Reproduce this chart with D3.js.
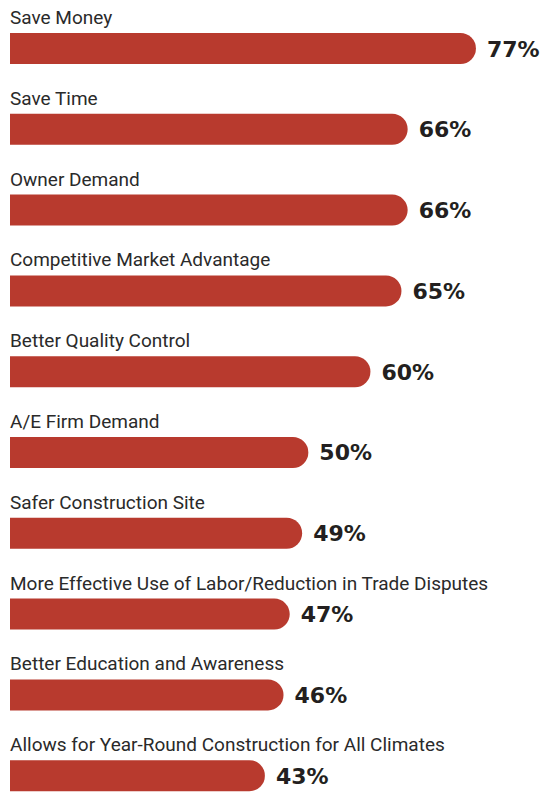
<!DOCTYPE html>
<html>
<head>
<meta charset="utf-8">
<script src="https://cdn.jsdelivr.net/npm/d3@7"></script>
<style>
  body { margin: 0; background: #fff; }
</style>
</head>
<body>
<div id="chart"></div>
<script>
const categories = [
  "Save Money",
  "Save Time",
  "Owner Demand",
  "Competitive Market Advantage",
  "Better Quality Control",
  "A/E Firm Demand",
  "Safer Construction Site",
  "More Effective Use of Labor/Reduction in Trade Disputes",
  "Better Education and Awareness",
  "Allows for Year-Round Construction for All Climates"
];
const values = [77, 66, 66, 65, 60, 50, 49, 47, 46, 43];

const width = 543;
const height = 792;
const barLeft = 10;

const dataset = categories.map((c, i) => ({ cat: c, val: values[i] }));

const svg = d3.select("#chart")
  .append("svg")
  .attr("width", width)
  .attr("height", height);

// ---- SCALES ----
const x = d3.scaleLinear()
  .domain([0, 100])
  .range([-2, 618.7]);

const y = d3.scaleBand()
  .domain(categories)
  .range([33, 791.2])
  .paddingInner(0.6163)
  .paddingOuter(0);

const bh = y.bandwidth();
const r = bh / 2;

// ---- BARS (flat left, round right) ----
svg.selectAll("path.bar")
  .data(dataset)
  .enter()
  .append("path")
  .attr("class", "bar")
  .attr("fill", "#b83a2e")
  .attr("d", d => {
    const x1 = x(d.val);
    const y0 = y(d.cat);
    return `M${barLeft},${y0} H${x1 - r} A${r},${r} 0 0 1 ${x1 - r},${y0 + bh} H${barLeft} Z`;
  });

// ---- CATEGORY LABELS ----
svg.selectAll("text.cat")
  .data(dataset)
  .enter()
  .append("text")
  .attr("class", "cat")
  .attr("x", barLeft)
  .attr("y", d => y(d.cat) - 9)
  .attr("font-family", "Roboto, sans-serif")
  .attr("font-size", 19)
  .attr("fill", "#2a2a2a")
  .text(d => d.cat);

// ---- VALUE LABELS ----
svg.selectAll("text.val")
  .data(dataset)
  .enter()
  .append("text")
  .attr("class", "val")
  .attr("x", d => x(d.val) + 11)
  .attr("y", d => y(d.cat) + bh / 2 + 8)
  .attr("font-family", "DejaVu Sans, sans-serif")
  .attr("font-weight", "bold")
  .attr("font-size", 22)
  .attr("fill", "#231f20")
  .text(d => d.val + "%");
</script>
</body>
</html>
